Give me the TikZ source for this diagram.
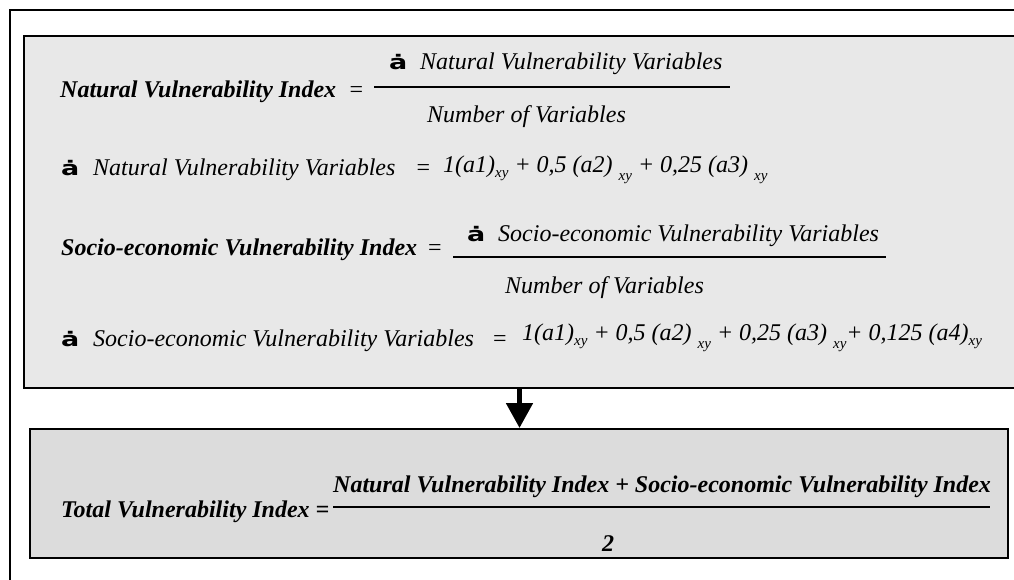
\documentclass[tikz,border=0pt]{standalone}
\usepackage{fontspec}
\setmainfont{Liberation Serif}
\newfontfamily\sigfont{DejaVu Sans}
\usetikzlibrary{arrows.meta}
\definecolor{topfill}{HTML}{E8E8E8}
\definecolor{botfill}{HTML}{DCDCDC}
\newcommand{\sig}{\scalebox{1.35}[1]{\sigfont\bfseries ȧ}}
\newcommand{\xya}{\raisebox{-5pt}{\fontsize{15}{15}\selectfont xy}}
\newcommand{\xyb}{\raisebox{-8pt}{\fontsize{15}{15}\selectfont xy}}
\begin{document}
\begin{tikzpicture}[x=1pt,y=-1pt,
  boxstyle/.style={draw=black, line width=1.8pt, anchor=north west, inner sep=0pt},
  lbl/.style={anchor=base west, inner sep=0pt, font=\fontsize{24}{28}\selectfont\bfseries\itshape},
  txt/.style={anchor=base west, inner sep=0pt, font=\fontsize{24}{28}\selectfont\itshape},
  eqs/.style={anchor=base, inner sep=0pt, font=\fontsize{24}{28}\selectfont},
  sigst/.style={anchor=base west, inner sep=0pt, font=\fontsize{20}{24}\selectfont},
  bar/.style={line width=2pt}
]
\useasboundingbox (0,0) rectangle (1014,579);
\clip (0,0) rectangle (1014,579);
% boxes
\node[boxstyle, line width=2pt, minimum width=1030pt, minimum height=600pt] (outer) at (9,9) {};
\node[boxstyle, fill=topfill, minimum width=1010pt, minimum height=352pt] (top) at (23,35) {};
\node[boxstyle, fill=botfill, minimum width=978pt, minimum height=129pt] (bot) at (29,428) {};
% arrow
\coordinate (ax) at (519.5,0);
\draw[line width=5pt, -{Triangle[width=26pt,length=25pt]}] (top.south -| ax) -- (bot.north -| ax);
% row 1
\node[lbl] (nvi) at (60,97) {Natural Vulnerability Index};
\node[eqs] (eq1) at (356.5,97) {=};
\draw[bar] (374,87) -- (730,87);
\node[sigst] (s1) at (389,69) {\sig};
\node[txt] (n1) at (420,69) {Natural Vulnerability Variables};
\node[txt] (d1) at (427,122) {Number of Variables};
% row 2
\node[sigst] (s2) at (61,175) {\sig};
\node[txt] (t2) at (93,175) {Natural Vulnerability Variables};
\node[eqs] (eq2) at (423.5,175) {=};
\node[txt] (f2) at (443,172) {1(a1)\xya{} + 0,5 (a2) \xyb{} + 0,25 (a3) \xyb};
% row 3
\node[lbl] (svi) at (61,255) {Socio-economic Vulnerability Index};
\node[eqs] (eq3) at (435,255) {=};
\draw[bar] (453,257) -- (886,257);
\node[sigst] (s3) at (467,241) {\sig};
\node[txt] (n3) at (498,241) {Socio-economic Vulnerability Variables};
\node[txt] (d3) at (505,293) {Number of Variables};
% row 4
\node[sigst] (s4) at (61,346) {\sig};
\node[txt] (t4) at (93,346) {Socio-economic Vulnerability Variables};
\node[eqs] (eq4) at (500,346) {=};
\node[txt] (f4) at (522,340) {1(a1)\xya{} + 0,5 (a2) \xyb{} + 0,25 (a3) \xyb{}+ 0,125 (a4)\xya};
% row 5
\node[lbl] (tvi) at (61,517) {Total Vulnerability Index =};
\draw[bar] (333,507) -- (990,507);
\node[lbl] (n5) at (333,492) {Natural Vulnerability Index + Socio-economic Vulnerability Index};
\node[lbl] (d5) at (602,551) {2};
\end{tikzpicture}
\end{document}
